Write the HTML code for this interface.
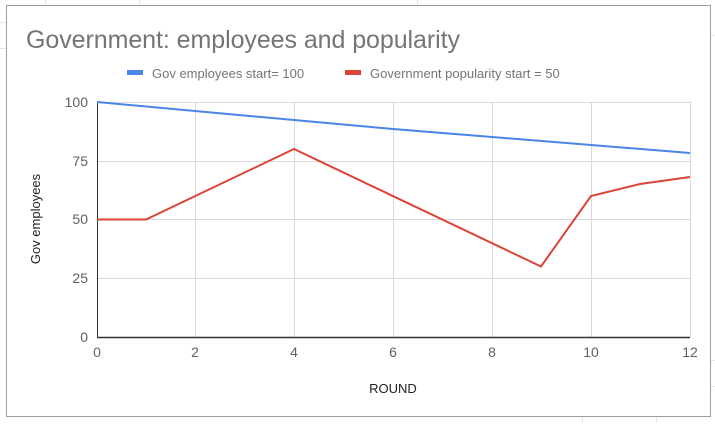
<!DOCTYPE html>
<html><head><style>
body{margin:0;width:715px;height:422px;background:#fff;overflow:hidden;font-family:"Liberation Sans",Arial,sans-serif}
</style></head><body>
<svg width="715" height="422" xmlns="http://www.w3.org/2000/svg" font-family="Liberation Sans, Arial, sans-serif">
<g stroke="#e6e6e6" stroke-width="1">
<line x1="0" y1="22.5" x2="6" y2="22.5"/><line x1="0" y1="48.5" x2="6" y2="48.5"/>
<line x1="45.5" y1="0" x2="45.5" y2="5"/><line x1="139.5" y1="0" x2="139.5" y2="5"/><line x1="417.5" y1="0" x2="417.5" y2="5"/>
<line x1="711" y1="35.5" x2="715" y2="35.5"/><line x1="711" y1="360.5" x2="715" y2="360.5"/><line x1="711" y1="386.5" x2="715" y2="386.5"/>
<line x1="582.5" y1="416" x2="582.5" y2="422"/><line x1="656.5" y1="416" x2="656.5" y2="422"/>
</g>
<rect x="6.5" y="5.5" width="704" height="411" fill="#fff" stroke="#9e9e9e" stroke-width="1"/>
<text x="26" y="48" font-size="25" fill="#757575" textLength="434">Government: employees and popularity</text>
<rect x="127" y="70" width="16" height="5" fill="#4a86e8"/>
<text x="152" y="78" font-size="13" fill="#757575">Gov employees start= 100</text>
<rect x="345" y="70" width="16" height="5" fill="#db4437"/>
<text x="370" y="78" font-size="13" fill="#757575">Government popularity start = 50</text>
<g stroke="#d9d9d9" stroke-width="1">
<line x1="97" y1="102.5" x2="690" y2="102.5"/><line x1="97" y1="161.5" x2="690" y2="161.5"/><line x1="97" y1="219.5" x2="690" y2="219.5"/><line x1="97" y1="278.5" x2="690" y2="278.5"/>
<line x1="195.5" y1="102" x2="195.5" y2="337"/><line x1="294.5" y1="102" x2="294.5" y2="337"/><line x1="393.5" y1="102" x2="393.5" y2="337"/><line x1="492.5" y1="102" x2="492.5" y2="337"/><line x1="591.5" y1="102" x2="591.5" y2="337"/><line x1="690.5" y1="102" x2="690.5" y2="337"/>
</g>
<line x1="97.5" y1="102" x2="97.5" y2="337" stroke="#333" stroke-width="1"/>
<line x1="97" y1="337.5" x2="690" y2="337.5" stroke="#333" stroke-width="1.5"/>
<g font-size="14" fill="#616161" text-anchor="end">
<text x="88" y="107">100</text><text x="88" y="166">75</text><text x="88" y="224">50</text><text x="88" y="283">25</text><text x="88" y="342">0</text>
</g>
<g font-size="14" fill="#616161" text-anchor="middle">
<text x="97" y="357">0</text><text x="195" y="357">2</text><text x="294" y="357">4</text><text x="393" y="357">6</text><text x="492" y="357">8</text><text x="591" y="357">10</text><text x="690" y="357">12</text>
</g>
<text x="393" y="393" font-size="13" fill="#222" text-anchor="middle">ROUND</text>
<text transform="translate(40,219) rotate(-90)" font-size="13" fill="#222" text-anchor="middle">Gov employees</text>
<polyline fill="none" stroke="#4a86e8" stroke-width="2" points="97,102 195,111 294,120 393,129 492,137 591,145 690,153"/>
<polyline fill="none" stroke="#db4437" stroke-width="2" points="97,219.5 146,219.5 294,149 541,266.5 591,196 640,184 690,177"/>
</svg>
</body></html>
